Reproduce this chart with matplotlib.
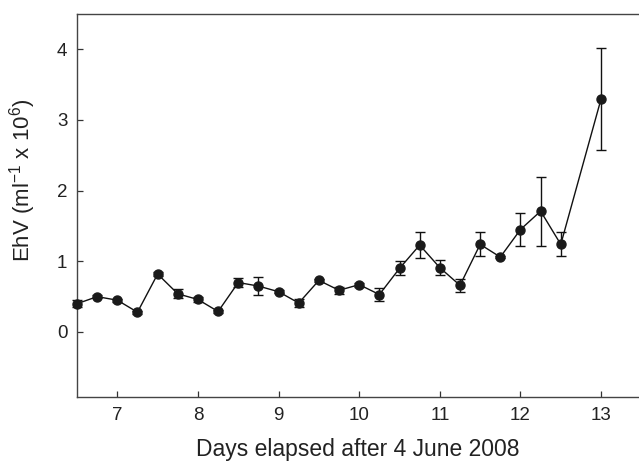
import matplotlib
matplotlib.use("Agg")
import matplotlib.pyplot as plt

days = [6.5, 6.75, 7.0, 7.25, 7.5, 7.75, 8.0, 8.25, 8.5, 8.75, 9.0, 9.25, 9.5,
        9.75, 10.0, 10.25, 10.5, 10.75, 11.0, 11.25, 11.5, 11.75, 12.0, 12.25, 12.5, 13.0]
ehv = [0.40, 0.50, 0.45, 0.28, 0.82, 0.54, 0.46, 0.29, 0.70, 0.65, 0.57, 0.41, 0.73,
       0.59, 0.67, 0.53, 0.90, 1.23, 0.91, 0.66, 1.24, 1.06, 1.45, 1.71, 1.24, 3.30]
err = [0.05, 0.02, 0.02, 0.02, 0.03, 0.065, 0.04, 0.02, 0.06, 0.13, 0.02, 0.06, 0.02,
       0.05, 0.03, 0.09, 0.10, 0.19, 0.11, 0.09, 0.17, 0.02, 0.23, 0.49, 0.17, 0.725]
xticks = [7, 8, 9, 10, 11, 12, 13]
yticks = [0, 1, 2, 3, 4]

plt.rcParams['font.family'] = ['Liberation Sans', 'DejaVu Sans']
plt.rcParams['mathtext.fontset'] = 'custom'
plt.rcParams['mathtext.rm'] = 'Liberation Sans'
plt.rcParams['mathtext.it'] = 'Liberation Sans'
plt.rcParams['mathtext.default'] = 'regular'

fig = plt.figure(figsize=(6.39, 4.66), dpi=100)
ax = fig.add_axes([77/639, 1-397/466, 1-77/639, (397-14)/466])

ax.errorbar(days, ehv, yerr=err, color='#111111', lw=1.0, marker='o', ms=6.5,
            mfc='#1a1a1a', mec='#1a1a1a', ecolor='#111111', elinewidth=1.0,
            capsize=3.5, capthick=1.0, clip_on=False, zorder=3)

ax.set_xlim(6.5, 13.47)
ax.set_ylim(-0.92, 4.5)
ax.set_xticks(xticks)
ax.set_yticks(yticks)
ax.tick_params(direction='in', length=4, width=0.9, colors='#333333',
               labelcolor='#222222', labelsize=13.5, pad=7)
for s in ['left', 'bottom', 'top']:
    ax.spines[s].set_color('#444444')
    ax.spines[s].set_linewidth(1.0)
ax.spines['right'].set_visible(False)

ax.set_xlabel('Days elapsed after 4 June 2008', fontsize=16.5, color='#222222', labelpad=10)
ax.set_ylabel('EhV (ml$^{\u2212 1}$ x 10$^{6}$)', fontsize=16, color='#222222')
ax.yaxis.set_label_coords(-0.069, 0.567)

fig.savefig('out.png', dpi=100)
